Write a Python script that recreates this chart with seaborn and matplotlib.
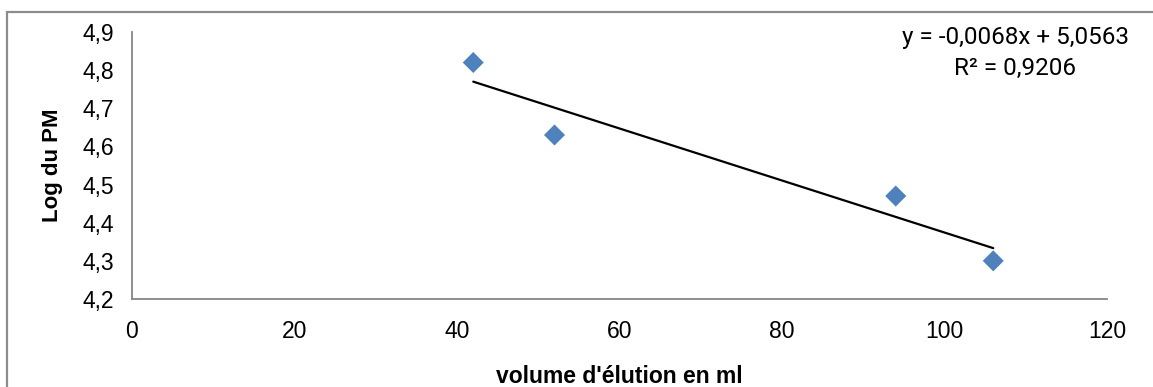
import matplotlib
matplotlib.use("Agg")
import matplotlib.pyplot as plt
import seaborn as sns
import pandas as pd
from matplotlib.patches import Rectangle

# Data
volume = [42, 52, 94, 106]
log_pm = [4.82, 4.63, 4.47, 4.30]
x_ticks = [0, 20, 40, 60, 80, 100, 120]
y_ticks = [4.2, 4.3, 4.4, 4.5, 4.6, 4.7, 4.8, 4.9]
equation = "y = -0,0068x + 5,0563"
r2_text = "R² = 0,9206"

df = pd.DataFrame({"volume": volume, "log_pm": log_pm})

sns.set_style("white")
plt.rcParams["font.family"] = ["Liberation Sans", "DejaVu Sans"]
plt.rcParams["text.color"] = "black"
plt.rcParams["axes.labelcolor"] = "black"

fig = plt.figure(figsize=(11.53, 3.87), dpi=100)
ax = fig.add_axes([132 / 1153, 1 - 299 / 387, 975 / 1153, 267 / 387])

# Outer chart border (clipped at right and bottom like the reference)
fig.patches.append(Rectangle((7 / 1153, -0.05), 1.2, (387 - 12) / 387 + 0.05,
                             transform=fig.transFigure, fill=False,
                             edgecolor="#8c8c8c", linewidth=1.6, zorder=0))

sns.regplot(data=df, x="volume", y="log_pm", ax=ax, scatter=False, ci=None,
            truncate=True, line_kws={"color": "black", "linewidth": 1.6})
sns.scatterplot(data=df, x="volume", y="log_pm", ax=ax, marker="D", s=115,
                color="#4F81BD", edgecolor="none", zorder=3)

ax.set_xlim(0, 120)
ax.set_ylim(4.2, 4.9)
ax.set_xticks(x_ticks)
ax.set_yticks(y_ticks)
ax.set_xticklabels([str(t) for t in x_ticks])
ax.set_yticklabels([f"{t:.1f}".replace(".", ",") for t in y_ticks])

for side in ["top", "right"]:
    ax.spines[side].set_visible(False)
for side in ["left", "bottom"]:
    ax.spines[side].set_color("#868686")
    ax.spines[side].set_linewidth(1.3)

ax.tick_params(axis="both", which="major", direction="out", length=6,
               width=1.2, color="#868686", labelsize=16.5, labelcolor="black")
ax.tick_params(axis="y", pad=7)
ax.tick_params(axis="x", pad=9)

ax.set_xlabel("volume d'élution en ml", fontsize=16.5, fontweight="bold",
              labelpad=16, color="black")
ax.set_ylabel("Log du PM", fontsize=16, fontweight="bold", labelpad=14,
              color="black")

ax.text(1015 / 1153, 1 - 53 / 387, equation + "\n" + r2_text,
        transform=fig.transFigure, ha="center", va="center", color="black",
        fontsize=17.5, family=["Roboto", "DejaVu Sans"], linespacing=1.4)

fig.savefig("out.png", dpi=100)
